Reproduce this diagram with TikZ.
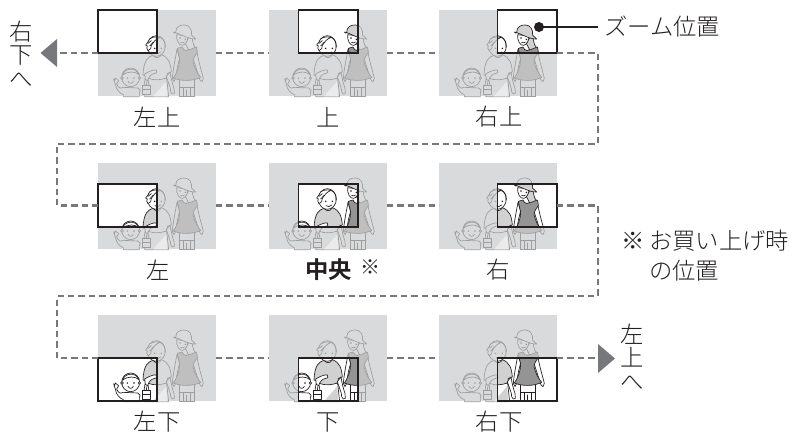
\documentclass[tikz,border=0pt]{standalone}
\usepackage{fontspec}
\setmainfont{Noto Sans CJK JP Light}
\newfontfamily\jpbold{Noto Sans CJK JP Bold}
\usetikzlibrary{calc}
\definecolor{photo}{HTML}{D9DADB}
\definecolor{dashc}{HTML}{77787B}
\definecolor{inkc}{HTML}{231F20}
% arguments: line colour, girl's dress, mother's shirt, base fill, skirt wedge
\newcommand{\familyfig}[5]{%
 \begin{scope}[x=0.25pt,y=-0.25pt,line width=0.5pt,draw=#1,line join=round,line cap=round]
 % child
 \draw[fill=#4] (75,232) .. controls (66,238) and (60,232) .. (56,222) -- (62,212) -- (52,204) -- (50,212) -- (47,206) -- (49,214) -- (52,222) .. controls (54,240) and (66,250) .. (76,254) -- (76,260) -- (124,260) -- (124,248) .. controls (128,244) and (128,238) .. (120,234) -- cycle;
 \draw[fill=#4] (98,202) ellipse (27 and 28);
 \draw[fill=#4] (72,204) circle (4) (124,204) circle (4);
 \draw (73,196) .. controls (78,176) and (112,168) .. (123,194) .. controls (112,184) and (90,182) .. (73,196) -- cycle;
 \fill[#1] (88,204) circle (2.5) (108,204) circle (2.5);
 \draw (90,214) .. controls (94,222) and (102,222) .. (106,214);
 % mother's skirt and body
 \draw[fill=#4] (148,205) -- (140,260) -- (212,260) -- (206,205) -- cycle;
 \fill[#5] (204,215) -- (208,259) -- (165,259) -- cycle;
 \draw[fill=#3] (165,136) .. controls (150,140) and (137,150) .. (135,195) -- (145,198) -- (150,205) .. controls (170,212) and (190,210) .. (207,203) -- (208,190) -- (220,186) .. controls (218,160) and (212,142) .. (190,134) .. controls (185,145) and (172,146) .. (165,136) -- cycle;
 \draw[fill=#4] (216,186) .. controls (219,205) and (224,225) .. (228,235) -- (229,250) -- (223,252) -- (218,245) -- (217,235) -- (205,200) -- cycle;
 \draw[fill=#4] (142,208) -- (140,192) .. controls (150,186) and (165,178) .. (175,180) .. controls (180,186) and (176,192) .. (170,190) .. controls (160,192) and (152,200) .. (149,212) -- cycle;
 \draw[fill=#4] (133,227) rectangle (157,254);
 \draw (133,237) -- (157,237);
 \draw (138,227) -- (141,207) (153,227) -- (150,210);
 % mother's head
 \draw[fill=#4] (175,108) ellipse (27 and 31);
 \draw[fill=#4] (150,122) .. controls (146,116) and (145,112) .. (148,108) -- (143,105) -- (150,96) .. controls (152,82) and (172,78) .. (186,82) .. controls (172,88) and (166,96) .. (160,106) -- (158,116) -- cycle;
 \draw (186,82) .. controls (198,86) and (203,100) .. (201,112);
 \draw (150,100) -- (160,92) (155,108) -- (166,96);
 \fill[#1] (170,115) circle (2.5) (190,115) circle (2.5);
 \draw (171,128) .. controls (176,132) and (184,132) .. (188,126);
 % girl
 \draw[fill=#4] (237,118) .. controls (231,150) and (225,180) .. (223,205) -- (228,215) -- (233,205) .. controls (236,180) and (240,160) .. (245,145) -- cycle;
 \draw[fill=#4] (295,115) .. controls (300,150) and (310,180) .. (316,205) -- (312,215) -- (306,210) .. controls (296,180) and (290,160) .. (285,145) -- cycle;
 \draw[fill=#4] (244,205) -- (244,260) -- (290,260) -- (290,205) -- cycle;
 \draw (244,233) -- (290,233) (255,233) -- (255,260) (266,240) -- (266,260) (278,233) -- (278,260);
 \draw[fill=#2] (238,115) -- (252,111) .. controls (256,124) and (272,126) .. (278,110) -- (296,112) -- (298,128) .. controls (289,140) and (284,148) .. (285,156) .. controls (290,175) and (298,190) .. (308,202) .. controls (285,214) and (250,214) .. (226,204) .. controls (236,190) and (244,170) .. (245,150) .. controls (244,140) and (240,128) .. (238,115) -- cycle;
 \draw[fill=#3] (280,70) .. controls (284,90) and (284,105) .. (292,112) -- (272,120) -- (262,100) -- cycle;
 \draw[fill=#4] (236,74) .. controls (234,92) and (244,108) .. (254,106) .. controls (264,104) and (270,90) .. (270,78) -- cycle;
 \draw[fill=#3] (226,66) .. controls (230,70) and (232,71) .. (233,66) .. controls (234,50) and (246,44) .. (260,45) .. controls (276,46) and (282,60) .. (281,76) .. controls (286,80) and (290,84) .. (293,87) .. controls (270,88) and (245,70) .. (226,66) -- cycle;
 \fill[#1] (246,84) circle (2.5) (262,88) circle (2.5);
 \draw (248,97) .. controls (252,100) and (256,99) .. (259,96);
 \end{scope}}
\tikzset{
 x=0.75pt,y=-0.75pt,
 photobox/.style={fill=photo,draw=none,minimum width=88.5pt,minimum height=64.5pt,inner sep=0pt,outer sep=0pt,anchor=north west},
 zoombox/.style={draw=inkc,line width=1.4pt,minimum width=44.5pt,minimum height=32.5pt,inner sep=0pt,outer sep=0pt,anchor=north west},
 link/.style={draw=dashc,line width=2pt,dash pattern=on 4.8pt off 3pt},
 tip/.style={fill=dashc,draw=none},
 lab/.style={inner sep=0pt,font=\fontsize{17.5pt}{20pt}\selectfont,text=inkc},
 leader/.style={draw=inkc,line width=0.9pt},
}
% #1 name, #2 x, #3 y, #4 zoom x offset, #5 zoom y offset
\newcommand{\shot}[5]{%
 \node[photobox] (#1) at (#2,#3) {};
 \begin{scope}[shift={(#2,#3)}]
  \familyfig{photoink}{photodress}{photo}{photo}{wedgelight}
  \node[zoombox,fill=white] (#1w) at (#4,#5) {};
  \begin{scope}
   \clip (#4,#5) rectangle ++(59.5,43.3);
   \familyfig{inkc}{midgray}{shirtgray}{white}{shirtgray}
  \end{scope}
  \node[zoombox] at (#4,#5) {};
 \end{scope}}
\colorlet{photoink}{black!38}
\colorlet{photodress}{black!25}
\colorlet{midgray}{black!42}
\colorlet{shirtgray}{black!18}
\colorlet{wedgelight}{black!8}
\begin{document}
\begin{tikzpicture}
\useasboundingbox (0,0) rectangle (794,433);
\shot{a}{98}{10}{0}{0}
\shot{b}{269}{10}{29.5}{0}
\shot{c}{439}{10}{58.5}{0}
\shot{d}{98}{163}{0}{21}
\shot{e}{269}{163}{29.5}{21}
\shot{f}{439}{163}{58.5}{21}
\shot{g}{98}{315}{0}{43}
\shot{h}{269}{315}{29.5}{43}
\shot{i}{439}{315}{58.5}{43}
% coordinates of the free ends
\coordinate (tl) at (57,53);
\coordinate (c1a) at (598,53);
\coordinate (c1b) at (598,144);
\coordinate (c1c) at (57,144);
\coordinate (c1d) at (57,205.5);
\coordinate (c2a) at (598,205.5);
\coordinate (c2b) at (598,296);
\coordinate (c2c) at (57,296);
\coordinate (c2d) at (57,358);
\coordinate (e1) at (598,358);
% connectors
\draw[link] (a.west |- tl) -- (tl);
\draw[link] (a.east |- tl) -- (b.west |- tl);
\draw[link] (b.east |- tl) -- (c.west |- tl);
\draw[link] (c.east |- tl) -- (c1a) -- (c1b) -- (c1c) -- (c1d) -- (d.west |- c1d);
\draw[link] (d.east |- c1d) -- (e.west |- c1d);
\draw[link] (e.east |- c1d) -- (f.west |- c1d);
\draw[link] (f.east |- c1d) -- (c2a) -- (c2b) -- (c2c) -- (c2d) -- (g.west |- c2d);
\draw[link] (g.east |- c2d) -- (h.west |- c2d);
\draw[link] (h.east |- c2d) -- (i.west |- c2d);
\draw[link] (i.east |- c2d) -- (e1);
\fill[tip] (40.5,53) -- (57,39) -- (57,67) -- cycle;
\fill[tip] (615,358.5) -- (598,344) -- (598,373) -- cycle;
% labels
\node[lab] (la) at (157,117) {左上};
\node[lab] (lb) at (328,117) {上};
\node[lab] (lc) at (499,117) {右上};
\node[lab] (ld) at (158.5,270) {左};
\node[lab,font=\fontsize{17.5pt}{20pt}\selectfont\jpbold] (le) at (328.5,270) {中央};
\node[lab,font=\fontsize{15pt}{16pt}\selectfont] (les) at (370,267) {※};
\node[lab] (lf) at (498,270) {右};
\node[lab] (lg) at (157,422) {左下};
\node[lab] (lh) at (328,422) {下};
\node[lab] (li) at (499,422) {右下};
\node[lab,align=center,font=\fontsize{17.5pt}{17.5pt}\selectfont] (rd) at (21.5,54) {右\\下\\へ};
\node[lab,align=center,font=\fontsize{17.5pt}{17.5pt}\selectfont] (lu) at (632,357) {左\\上\\へ};
\node[lab,anchor=west,inner xsep=4.5pt] (zp) at (598,27) {ズーム位置};
\node[lab] (n0) at (633.5,241) {※};
\node[lab,anchor=west] (n1) at (649,241) {お買い上げ時};
\node[lab,anchor=west] (n2) at (649,271) {の位置};
\fill[inkc] (539,27) circle (5) coordinate (dot);
\draw[leader] (dot) -- (zp.west);
\end{tikzpicture}
\end{document}
